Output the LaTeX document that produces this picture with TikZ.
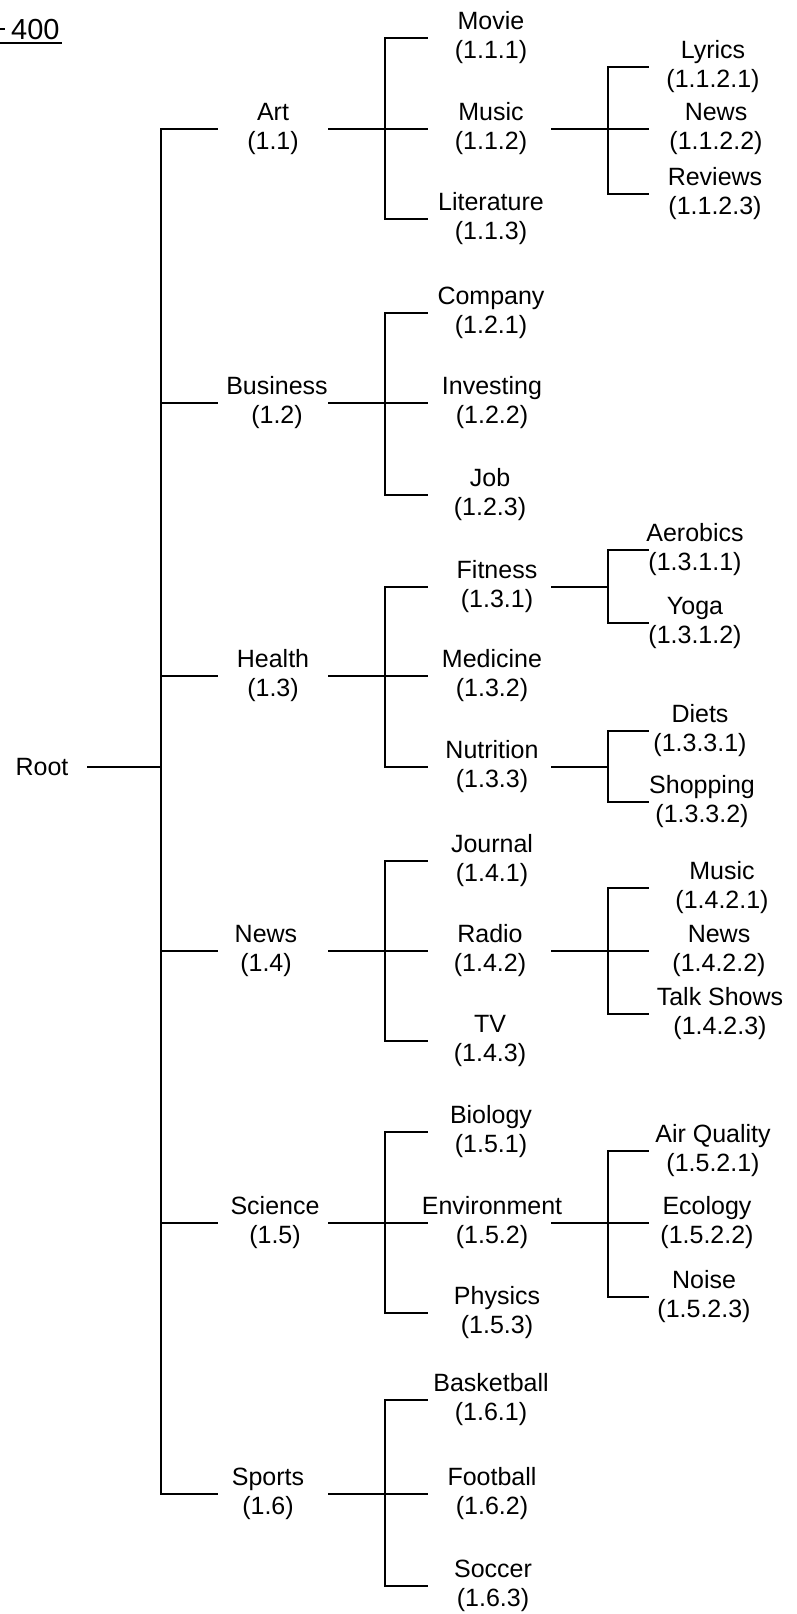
\documentclass[tikz,border=0pt]{standalone}
\usepackage{fontspec}
\setmainfont{Liberation Sans}
\begin{document}
\begin{tikzpicture}[x=1pt,y=-1pt,
  lbl/.style={font=\fontsize{25}{29}\selectfont, align=center, inner sep=0pt},
  wire/.style={line width=2.3pt, line cap=rect}]
\useasboundingbox (0,0) rectangle (796,1614);

% x positions of the trunks and of the line ends
\coordinate (rootend) at (88,0);
\coordinate (trunkA) at (161,0);
\coordinate (inA) at (217,0);
\coordinate (outA) at (329,0);
\coordinate (trunkB) at (385,0);
\coordinate (inB) at (427,0);
\coordinate (outB) at (552,0);
\coordinate (trunkC) at (608,0);
\coordinate (inC) at (648,0);

% reference numeral
\node[lbl, font=\fontsize{29}{33}\selectfont, anchor=base west] (fignum) at (11,39) {400};
\coordinate (ulstart) at (0,43);
\coordinate (ulend) at (62,43);
\coordinate (leadstart) at (0,29);
\coordinate (leadend) at (5,29);
\draw[line width=1.6pt] (ulstart) -- (ulend);
\draw[line width=1.6pt] (leadstart) -- (leadend);

% root
\node[lbl] (root) at (42,767) {Root};

% first level
\node[lbl] (art)      at (273,129)  {Art\\(1.1)};
\node[lbl] (business) at (277,403)  {Business\\(1.2)};
\node[lbl] (health)   at (273,676)  {Health\\(1.3)};
\node[lbl] (news)     at (266,951)  {News\\(1.4)};
\node[lbl] (science)  at (275,1223) {Science\\(1.5)};
\node[lbl] (sports)   at (268,1494) {Sports\\(1.6)};

% second level
\node[lbl] (movie)      at (491,38)   {Movie\\(1.1.1)};
\node[lbl] (music)      at (491,129)  {Music\\(1.1.2)};
\node[lbl] (literature) at (491,219)  {Literature\\(1.1.3)};

\node[lbl] (company)   at (491,313) {Company\\(1.2.1)};
\node[lbl] (investing) at (492,403) {Investing\\(1.2.2)};
\node[lbl] (job)       at (490,495) {Job\\(1.2.3)};

\node[lbl] (fitness)   at (497,587) {Fitness\\(1.3.1)};
\node[lbl] (medicine)  at (492,676) {Medicine\\(1.3.2)};
\node[lbl] (nutrition) at (492,767) {Nutrition\\(1.3.3)};

\node[lbl] (journal) at (492,861)  {Journal\\(1.4.1)};
\node[lbl] (radio)   at (490,951)  {Radio\\(1.4.2)};
\node[lbl] (tv)      at (490,1041) {TV\\(1.4.3)};

\node[lbl] (biology)     at (491,1132) {Biology\\(1.5.1)};
\node[lbl] (environment) at (492,1223) {Environment\\(1.5.2)};
\node[lbl] (physics)     at (497,1313) {Physics\\(1.5.3)};

\node[lbl] (basketball) at (491,1400) {Basketball\\(1.6.1)};
\node[lbl] (football)   at (492,1494) {Football\\(1.6.2)};
\node[lbl] (soccer)     at (493,1586) {Soccer\\(1.6.3)};

% third level
\node[lbl] (lyrics)    at (713,67)  {Lyrics\\(1.1.2.1)};
\node[lbl] (musicnews) at (716,129) {News\\(1.1.2.2)};
\node[lbl] (reviews)   at (715,194) {Reviews\\(1.1.2.3)};

\node[lbl] (aerobics) at (695,550) {Aerobics\\(1.3.1.1)};
\node[lbl] (yoga)     at (695,623) {Yoga\\(1.3.1.2)};

\node[lbl] (diets)    at (700,731) {Diets\\(1.3.3.1)};
\node[lbl] (shopping) at (702,802) {Shopping\\(1.3.3.2)};

\node[lbl] (radiomusic) at (722,888)  {Music\\(1.4.2.1)};
\node[lbl] (radionews)  at (719,951)  {News\\(1.4.2.2)};
\node[lbl] (talkshows)  at (720,1014) {Talk Shows\\(1.4.2.3)};

\node[lbl] (airquality) at (713,1151) {Air Quality\\(1.5.2.1)};
\node[lbl] (ecology)    at (707,1223) {Ecology\\(1.5.2.2)};
\node[lbl] (noise)      at (704,1297) {Noise\\(1.5.2.3)};

% root connector and main trunk
\draw[wire] (root -| rootend) -- (root -| trunkA);
\draw[wire] (art -| trunkA) -- (sports -| trunkA);
\foreach \n in {art,business,health,news,science,sports}
  \draw[wire] (\n -| trunkA) -- (\n -| inA) (\n -| outA) -- (\n -| trunkB);

% second-level brackets
\foreach \a/\b/\c in {movie/music/literature, company/investing/job,
                      fitness/medicine/nutrition, journal/radio/tv,
                      biology/environment/physics, basketball/football/soccer}{
  \draw[wire] (\a -| trunkB) -- (\c -| trunkB);
  \foreach \n in {\a,\b,\c}
    \draw[wire] (\n -| trunkB) -- (\n -| inB);
}

% connectors to the third level
\foreach \n in {music,fitness,nutrition,radio,environment}
  \draw[wire] (\n -| outB) -- (\n -| trunkC);

% third-level brackets
\foreach \a/\c in {lyrics/reviews, aerobics/yoga, diets/shopping,
                   radiomusic/talkshows, airquality/noise}
  \draw[wire] (\a -| trunkC) -- (\c -| trunkC);
\foreach \n in {lyrics,musicnews,reviews,aerobics,yoga,diets,shopping,
                radiomusic,radionews,talkshows,airquality,ecology,noise}
  \draw[wire] (\n -| trunkC) -- (\n -| inC);
\end{tikzpicture}
\end{document}
